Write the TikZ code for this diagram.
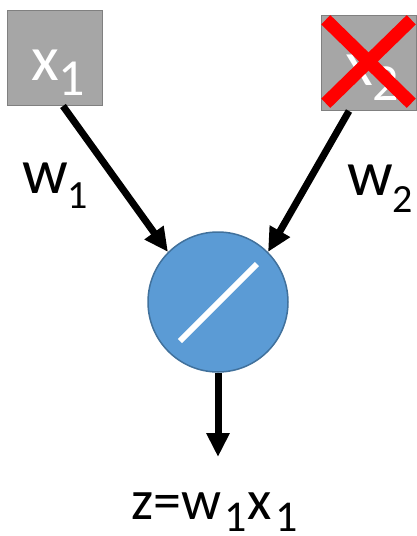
\documentclass[tikz,border=0pt]{standalone}
\usepackage{fontspec}
\setmainfont{Carlito}
\usetikzlibrary{arrows.meta,calc}
\definecolor{boxgray}{HTML}{A6A6A6}
\definecolor{boxedge}{HTML}{808080}
\definecolor{nodeblue}{HTML}{5B9BD5}
\definecolor{nodeedge}{HTML}{41719C}
\definecolor{xred}{HTML}{FF0000}
\newcommand{\lowsub}[3]{\raisebox{-#2pt}{\fontsize{#1}{#1}\selectfont #3}}
\tikzset{
  inbox/.style={draw=boxedge, fill=boxgray, line width=1.5pt, minimum size=95pt, inner sep=0pt},
  neuron/.style={circle, draw=nodeedge, fill=nodeblue, line width=1.5pt, minimum size=140pt, inner sep=0pt},
  lbl/.style={anchor=base west, inner sep=0pt, outer sep=0pt},
  arr/.style={line width=7pt, -{Triangle[width=22pt,length=24pt]}},
  redx/.style={draw=xred, line width=13pt},
  slash/.style={draw=white, line width=6pt}
}
\begin{document}
\begin{tikzpicture}[x=1pt,y=-1pt]
\useasboundingbox (0,0) rectangle (417,536);
% input boxes
\node[inbox] (x1) at (55,58) {};
\node[inbox] (x2) at (369,63) {};
\node[lbl, text=white] (x1lab) at (31,80) {\fontsize{64}{70}\selectfont x\lowsub{52}{15}{1}};
\node[lbl, text=white] (x2lab) at (345,85) {\fontsize{64}{70}\selectfont x\lowsub{52}{15}{2}};
\draw[redx] ($(x2.north west)+(5,5)$) -- ($(x2.south east)+(-6,-8)$);
\draw[redx] ($(x2.north east)+(-6,5)$) -- ($(x2.south west)+(5,-8)$);
% neuron
\node[neuron] (n) at (218,302) {};
\draw[slash] ($(n)+(-38,39)$) -- ($(n)+(39,-38)$);
% connectors
\coordinate (s1) at (63,106);
\coordinate (s2) at (349,111);
\coordinate (out) at (218,457);
\draw[arr] (s1) -- (n.135);
\draw[arr] (s2) -- (n.45);
\draw[arr] (n.south) -- (out);
% weight labels
\node[lbl] (w1) at (22,193) {\fontsize{64}{70}\selectfont w\lowsub{40}{15}{1}};
\node[lbl] (w2) at (347,195) {\fontsize{64}{70}\selectfont w\lowsub{40}{17}{2}};
% output label
\node[lbl] (z) at (131,519) {\fontsize{56}{60}\selectfont z=w\kern3pt\lowsub{44}{12}{1}\kern1pt x\kern4pt\lowsub{44}{12}{1}};
\end{tikzpicture}
\end{document}
